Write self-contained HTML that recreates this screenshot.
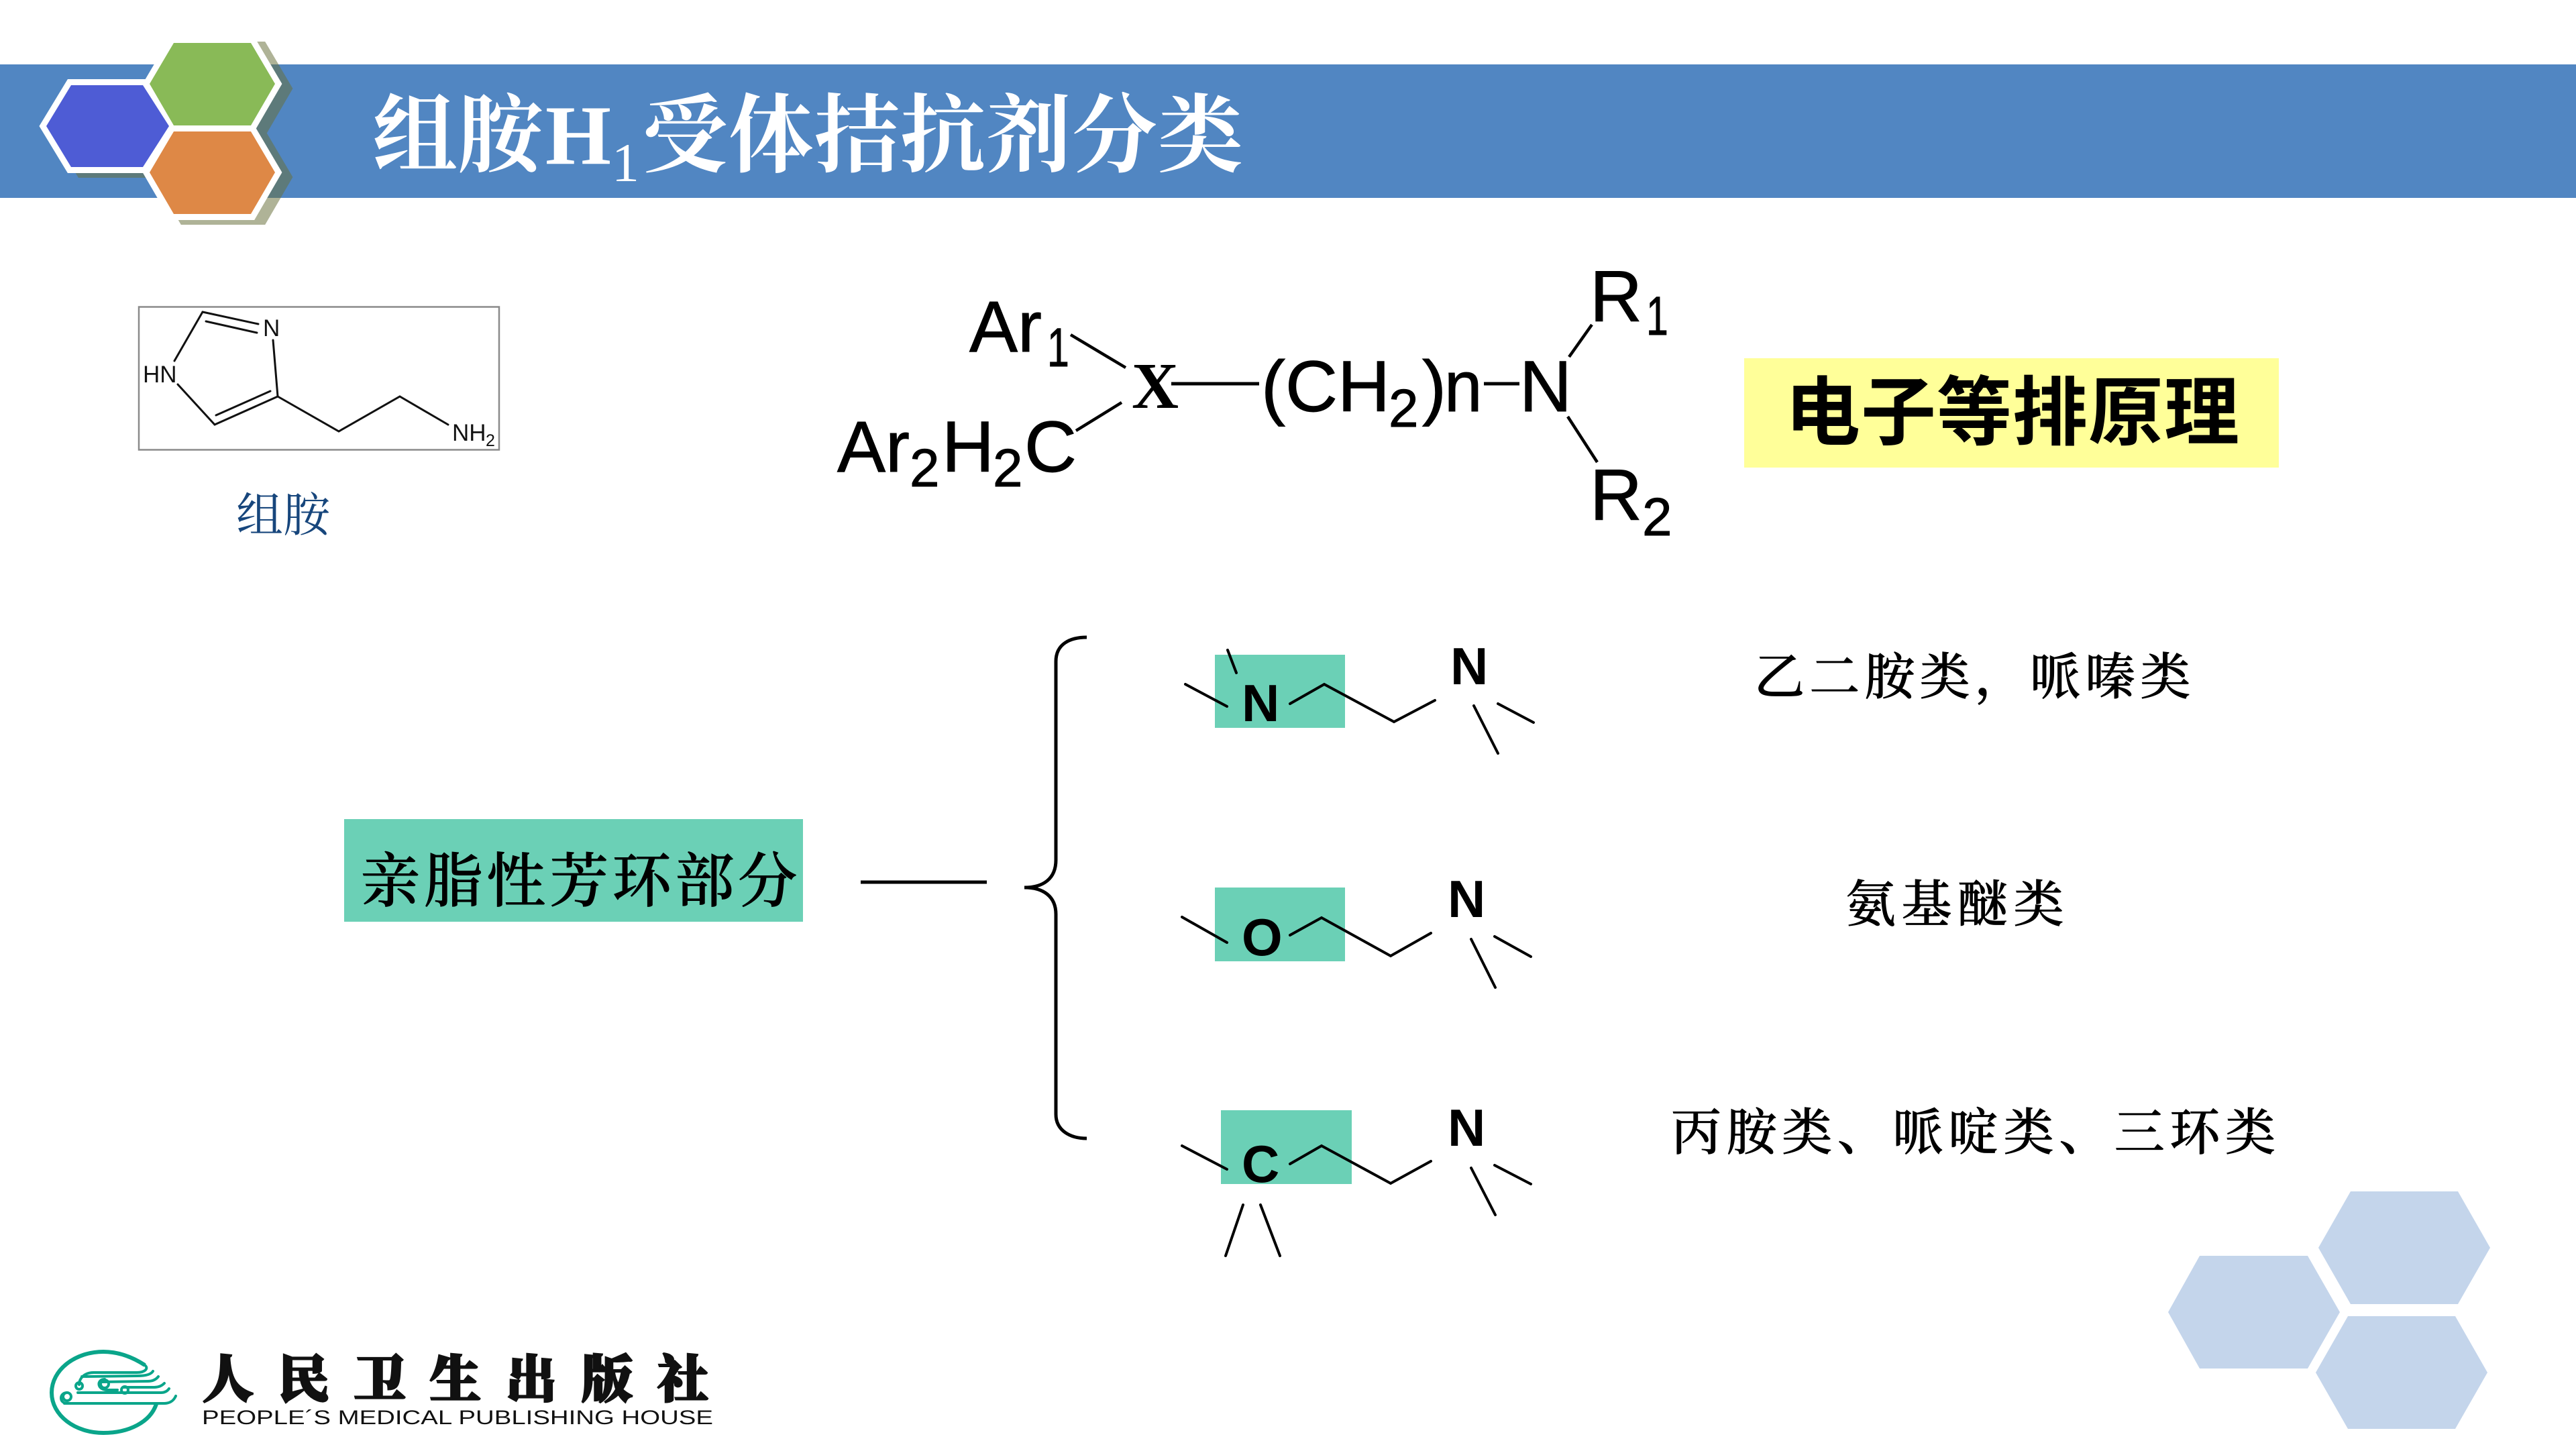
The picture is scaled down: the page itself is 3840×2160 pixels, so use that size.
<!DOCTYPE html>
<html lang="zh">
<head>
<meta charset="utf-8">
<title>组胺H1受体拮抗剂分类</title>
<style>
html,body{margin:0;padding:0;background:#fff;width:3840px;height:2160px;overflow:hidden}
svg{display:block}
.sans{font-family:"Liberation Sans","Noto Sans CJK SC",sans-serif}
.serif{font-family:"Liberation Serif","Noto Serif CJK SC",serif}
.cjs{font-family:"Noto Serif CJK SC","Liberation Serif",serif}
.bd line,.bd polyline{stroke:#000;stroke-width:4;fill:none;stroke-linecap:round;stroke-linejoin:miter}
</style>
</head>
<body>
<svg xmlns="http://www.w3.org/2000/svg" width="3840" height="2160" viewBox="0 0 3840 2160">
<rect width="3840" height="2160" fill="#fff"/>
<!-- header band -->
<rect x="0" y="96" width="3840" height="199" fill="#5186c2"/>
<!-- shadow -->
<g opacity="0.53" transform="translate(16,7)" fill="#69713c" stroke="#69713c" stroke-width="18" stroke-linejoin="miter">
  <polygon points="259,64 374,64 410,125 374,187 259,187 223,125"/>
  <polygon points="259,196 374,196 410,257 374,319 259,319 223,257"/>
  <polygon points="106,127 213,127 252,188 213,249 106,249 69,188"/>
</g>
<!-- hex outlines -->
<g fill="#fff" stroke="#fff" stroke-width="18" stroke-linejoin="miter">
  <polygon points="259,64 374,64 410,125 374,187 259,187 223,125"/>
  <polygon points="259,196 374,196 410,257 374,319 259,319 223,257"/>
  <polygon points="106,127 213,127 252,188 213,249 106,249 69,188"/>
</g>
<polygon points="106,127 213,127 252,188 213,249 106,249 69,188" fill="#4e5cd5"/>
<polygon points="259,64 374,64 410,125 374,187 259,187 223,125" fill="#89ba57"/>
<polygon points="259,196 374,196 410,257 374,319 259,319 223,257" fill="#de8846"/>
<!-- title -->
<g fill="#fff" font-weight="700">
  <text class="cjs" x="555" y="246" font-size="127">组胺</text>
  <text class="serif" x="813" y="244" font-size="126">H</text>
  <text class="serif" x="912" y="270" font-size="82" font-weight="400">1</text>
  <text class="cjs" x="958" y="246" font-size="127" letter-spacing="1">受体拮抗剂分类</text>
</g>
<!-- histamine -->
<rect x="207" y="457.5" width="537" height="213" fill="#fff" stroke="#8a8a8a" stroke-width="2.5"/>
<g stroke="#111" stroke-width="3" fill="none" stroke-linecap="round">
  <line x1="302" y1="465" x2="385" y2="483"/>
  <line x1="307" y1="479" x2="383" y2="496"/>
  <line x1="302" y1="465" x2="260" y2="538"/>
  <line x1="265" y1="573" x2="320" y2="633"/>
  <line x1="320" y1="633" x2="414" y2="591"/>
  <line x1="322" y1="619" x2="403" y2="583"/>
  <line x1="407" y1="507" x2="414" y2="591"/>
  <polyline points="414,591 505,643 596,591 668,633"/>
</g>
<g class="sans" fill="#111" font-size="35">
  <text x="213" y="570">HN</text>
  <text x="392" y="501">N</text>
  <text x="674" y="657">NH</text>
  <text x="724" y="665" font-size="25">2</text>
</g>
<text class="cjs" x="352" y="792" font-size="70" fill="#17467c">组胺</text>
<!-- general formula -->
<g class="sans" fill="#000" stroke="#000" stroke-width="1" font-size="108">
  <text x="1445" y="524">Ar</text>
  <text transform="translate(1561,546) scale(.72,1)" font-size="82">1</text>
  <text x="1248" y="703">Ar</text>
  <text x="1356" y="725" font-size="80">2</text>
  <text x="1404" y="703">H</text>
  <text x="1480" y="725" font-size="80">2</text>
  <text x="1527" y="703">C</text>
  <text x="1880" y="613">(CH</text>
  <text x="2070" y="636" font-size="80">2</text>
  <text x="2120" y="613">)</text>
  <text transform="translate(2153,613) scale(.94,1)">n</text>
  <text x="2265" y="613">N</text>
  <text x="2370" y="479">R</text>
  <text transform="translate(2454,499) scale(.72,1)" font-size="82">1</text>
  <text x="2370" y="775">R</text>
  <text x="2448" y="798" font-size="80">2</text>
</g>
<text class="serif" x="1687" y="608" font-size="97" font-weight="700" fill="#000">X</text>
<g stroke="#000" stroke-width="4.5" fill="none">
  <line x1="1596" y1="499" x2="1678" y2="548"/>
  <line x1="1672" y1="600" x2="1604" y2="642"/>
  <line x1="1746" y1="572" x2="1877" y2="572" stroke-width="5"/>
  <line x1="2212" y1="572" x2="2265" y2="572" stroke-width="5"/>
  <line x1="2339" y1="532" x2="2373" y2="484"/>
  <line x1="2337" y1="621" x2="2381" y2="689"/>
</g>
<!-- yellow label -->
<rect x="2600" y="534" width="797" height="163" fill="#ffff99"/>
<text x="2661" y="654" font-size="112" font-weight="700" fill="#000" letter-spacing="1" style="font-family:'Noto Sans CJK SC',sans-serif">电子等排原理</text>
<!-- left label -->
<rect x="513" y="1221" width="684" height="153" fill="#6bd0b6"/>
<text class="cjs" x="538" y="1344" font-size="88" font-weight="500" letter-spacing="5.7" fill="#000" stroke="#000" stroke-width="1">亲脂性芳环部分</text>
<line x1="1283" y1="1315" x2="1471" y2="1315" stroke="#000" stroke-width="5"/>
<!-- brace -->
<path d="M1620 950 C1595 950 1574 960 1574 986 L1574 1282 C1574 1310 1555 1323 1527 1323 C1555 1323 1574 1336 1574 1363 L1574 1661 C1574 1685 1595 1697 1620 1697" fill="none" stroke="#000" stroke-width="5"/>
<!-- rows -->
<rect x="1811" y="976" width="194" height="109" fill="#6bd0b6"/>
<rect x="1811" y="1323" width="194" height="110" fill="#6bd0b6"/>
<rect x="1820" y="1655" width="195" height="110" fill="#6bd0b6"/>
<g class="bd">
  <line x1="1767" y1="1020" x2="1829" y2="1053"/>
  <line x1="1830" y1="969" x2="1843" y2="1003"/>
  <polyline points="1923,1049 1974,1020 2078,1076 2139,1044"/>
  <line x1="2233" y1="1049" x2="2286" y2="1077"/>
  <line x1="2197" y1="1052" x2="2233" y2="1123"/>

  <line x1="1762" y1="1367" x2="1829" y2="1405"/>
  <polyline points="1923,1394 1970,1368 2073,1425 2133,1391"/>
  <line x1="2228" y1="1396" x2="2282" y2="1426"/>
  <line x1="2193" y1="1400" x2="2229" y2="1472"/>

  <line x1="1762" y1="1708" x2="1829" y2="1743"/>
  <polyline points="1923,1735 1970,1708 2073,1764 2133,1731"/>
  <line x1="2228" y1="1737" x2="2282" y2="1765"/>
  <line x1="2193" y1="1741" x2="2229" y2="1811"/>
  <line x1="1853" y1="1796" x2="1827" y2="1872"/>
  <line x1="1879" y1="1796" x2="1908" y2="1872"/>
</g>
<g class="sans" font-size="78" font-weight="700" fill="#000">
  <text x="1851" y="1075">N</text>
  <text x="2162" y="1020">N</text>
  <text x="1851" y="1424">O</text>
  <text x="2158" y="1367">N</text>
  <text x="1851" y="1762">C</text>
  <text x="2158" y="1708">N</text>
</g>
<!-- right labels -->
<g class="cjs" font-size="75" fill="#000" font-weight="500" stroke="#000" stroke-width="0.8">
  <text x="2615" y="1035" letter-spacing="7.2">乙二胺类，哌嗪类</text>
  <text x="2751" y="1374" letter-spacing="8.5">氨基醚类</text>
  <text x="2491" y="1714" letter-spacing="7.6">丙胺类、哌啶类、三环类</text>
</g>
<!-- bottom-right hexes -->
<g fill="#c4d5eb">
  <polygon points="3504,1776 3664,1776 3712,1860 3664,1944 3504,1944 3456,1860"/>
  <polygon points="3279,1872 3440,1872 3488,1956 3440,2040 3279,2040 3232,1956"/>
  <polygon points="3500,1962 3660,1962 3708,2046 3660,2130 3500,2130 3452,2046"/>
</g>
<!-- logo -->
<path d="M216 2035 C196 2022 176 2015 154 2015 C112 2015 77 2042 77 2076 C77 2110 112 2136 154 2136 C192 2136 224 2120 233 2093" fill="none" stroke="#0aa58a" stroke-width="6"/>
<g fill="none" stroke="#0aa58a" stroke-width="4" stroke-linecap="round">
  <path d="M216 2035 C222 2040 216 2046 204 2046 L140 2046 C124 2046 118 2056 118 2064"/>
  <path d="M122 2052 L205 2051 C216 2051 225 2049 228 2044"/>
  <path d="M152 2060 L220 2059 C228 2059 233 2056 236 2052"/>
  <path d="M184 2068 L230 2068 C238 2068 243 2064 245 2062"/>
  <path d="M116 2076 L240 2076 C247 2076 250 2073 252 2070"/>
  <path d="M96 2092 L245 2092 C253 2092 259 2088 262 2081"/>
  <circle cx="118" cy="2066" r="5"/>
  <circle cx="156" cy="2063" r="6"/>
  <circle cx="186" cy="2072" r="5"/>
  <circle cx="100" cy="2082" r="6"/>
  <path d="M100 2076 C88 2076 88 2092 100 2092"/>
  <path d="M156 2056 C144 2056 144 2072 160 2072 L175 2072"/>
</g>
<text class="cjs" x="302" y="2083" font-size="76" font-weight="900" fill="#111" stroke="#111" stroke-width="3" letter-spacing="37">人民卫生出版社</text>
<text class="sans" x="301" y="2123" font-size="30" fill="#111" textLength="762" lengthAdjust="spacingAndGlyphs">PEOPLE´S MEDICAL PUBLISHING HOUSE</text>
</svg>
</body>
</html>
